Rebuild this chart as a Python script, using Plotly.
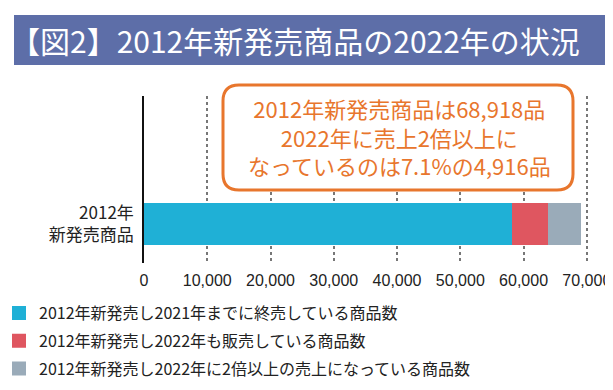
import plotly.graph_objects as go

# ---- data ----
category = ["2012年<br>新発売商品"]
series_names = [
    "2012年新発売し2021年までに終売している商品数",
    "2012年新発売し2022年も販売している商品数",
    "2012年新発売し2022年に2倍以上の売上になっている商品数",
]
series_values = [58300, 5702, 4916]
series_colors = ["#1fb0d6", "#df5660", "#9aabb9"]
x_tickvals = [0, 10000, 20000, 30000, 40000, 50000, 60000, 70000]
x_ticktext = ["0", "10,000", "20,000", "30,000", "40,000", "50,000", "60,000", "70,000"]
title_text = "【図2】2012年新発売商品の2022年の状況"
callout_text = "2012年新発売商品は68,918品<br>2022年に売上2倍以上に<br>なっているのは7.1%の4,916品"

# ---- layout geometry (pixels) ----
W, H = 613, 390
X_MAX = 70500
ML, MT, MB = 136, 88, 135
PW = round(443 * X_MAX / 70000)
MR = W - ML - PW
PH = H - MT - MB

def px(x):
    return (x - ML) / PW

def py(y):
    return (H - MB - y) / PH

CJK = "Noto Sans CJK JP"

fig = go.Figure()
for name, val, col in zip(series_names, series_values, series_colors):
    fig.add_trace(go.Bar(
        x=[val], y=[0], orientation="h", name=name,
        marker=dict(color=col, line=dict(color=col, width=2)),
        width=40 / PH,
        legendgroup=name,
        hoverinfo="x+name",
    ))

# title bar
fig.add_shape(type="rect", xref="paper", yref="paper",
              x0=px(6), x1=px(611), y0=py(57), y1=py(7),
              fillcolor="#5d6ea8", line=dict(width=0), layer="above")
fig.add_annotation(xref="paper", yref="paper", x=px(287), y=py(32),
                   text=title_text, showarrow=False,
                   font=dict(family=CJK, size=30, color="white"),
                   xanchor="center", yanchor="middle")

# callout box (rounded)
bx0, bx1, by0, by1, r = 215, 565, 77, 182, 16
path = (f"M {px(bx0 + r)} {py(by0)} L {px(bx1 - r)} {py(by0)} "
        f"Q {px(bx1)} {py(by0)} {px(bx1)} {py(by0 + r)} "
        f"L {px(bx1)} {py(by1 - r)} "
        f"Q {px(bx1)} {py(by1)} {px(bx1 - r)} {py(by1)} "
        f"L {px(bx0 + r)} {py(by1)} "
        f"Q {px(bx0)} {py(by1)} {px(bx0)} {py(by1 - r)} "
        f"L {px(bx0)} {py(by0 + r)} "
        f"Q {px(bx0)} {py(by0)} {px(bx0 + r)} {py(by0)} Z")
fig.add_shape(type="path", xref="paper", yref="paper", path=path,
              fillcolor="white", line=dict(color="#e8762d", width=3), layer="above")
fig.add_annotation(xref="paper", yref="paper", x=px(391), y=py(128),
                   text=callout_text, showarrow=False, align="center",
                   font=dict(family=CJK, size=22, color="#e8762d"),
                   xanchor="center", yanchor="middle")

fig.update_layout(
    width=W, height=H,
    margin=dict(l=ML, r=MR, t=MT, b=MB, pad=0, autoexpand=False),
    paper_bgcolor="white", plot_bgcolor="white",
    barmode="stack", bargap=0,
    showlegend=True,
    legend=dict(
        orientation="v", traceorder="grouped",
        x=px(-9), y=py(288), xanchor="left", yanchor="top",
        font=dict(family=CJK, size=16, color="#222222"),
        tracegroupgap=4, itemclick=False, itemdoubleclick=False,
        bgcolor="rgba(0,0,0,0)",
    ),
    font=dict(family=CJK, color="#222222"),
    xaxis=dict(
        range=[0, X_MAX], tickvals=x_tickvals, ticktext=x_ticktext,
        showgrid=True, gridcolor="#777777", gridwidth=1.5, griddash="dot",
        zeroline=False, showline=False, ticks="", tickangle=0,
        tickfont=dict(family="Liberation Sans, Arial", size=16, color="#222222"),
        ticklabelstandoff=6, fixedrange=True, automargin=False,
    ),
    yaxis=dict(
        range=[-(255 - 216) / PH, 1 - (255 - 216) / PH],
        tickvals=[0], ticktext=category,
        showgrid=False, zeroline=False,
        showline=True, linecolor="#111111", linewidth=1.5,
        ticks="", ticklabelstandoff=5,
        tickfont=dict(family=CJK, size=17, color="#222222"),
        fixedrange=True, automargin=False,
    ),
)

fig.write_html("out.html")
